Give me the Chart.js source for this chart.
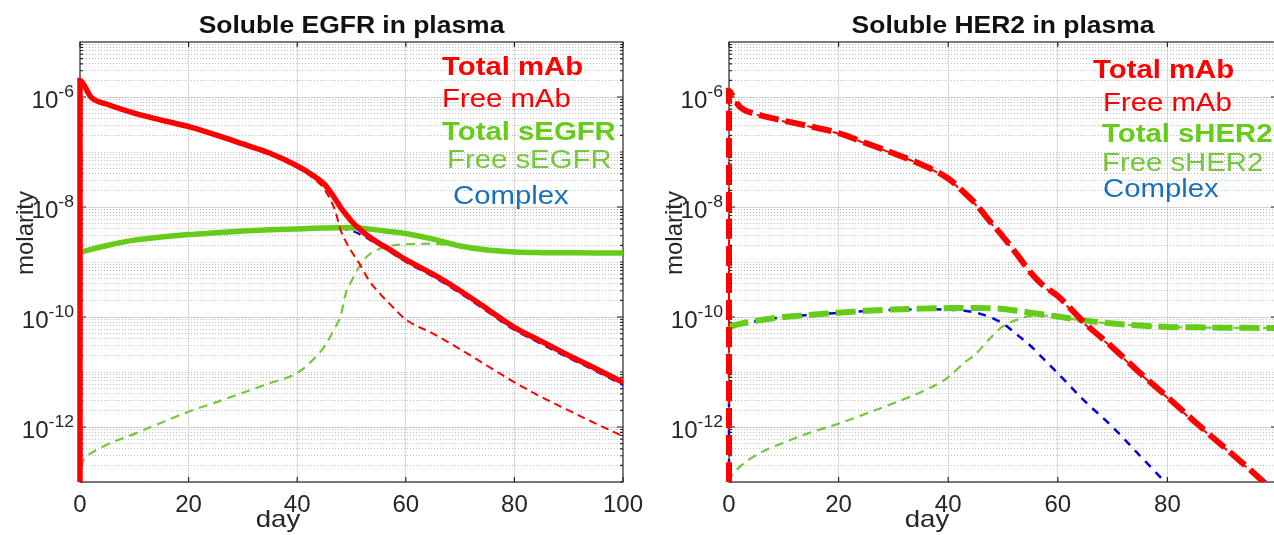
<!DOCTYPE html>
<html>
<head>
<meta charset="utf-8">
<script src="https://cdn.jsdelivr.net/npm/chart.js@4.4.1/dist/chart.umd.min.js"></script>
<style>
  html, body { margin: 0; padding: 0; background: #fff; overflow: hidden; width: 1274px; height: 535px; }
  #wrapL { position: absolute; left: 0; top: 0; }
  #wrapR { position: absolute; left: 648px; top: 0; }
</style>
</head>
<body>
<div id="wrapL"><canvas id="egfrChart" width="650" height="535"></canvas></div>
<div id="wrapR"><canvas id="her2Chart" width="660" height="535"></canvas></div>
<script>
// ---- data (days, molar) ----
const egfrDays = [0, 0, 0.5, 2, 5, 10, 15, 20, 25, 30, 35, 40, 43, 45, 47, 48, 49, 50, 51, 52, 53, 55, 57, 60, 65, 70, 75, 80, 85, 90, 95, 100];
const egfrTotalMab = [1e-13, 2.0e-6, 1.8e-6, 1.0e-6, 7.4e-7, 5.1e-7, 3.8e-7, 2.9e-7, 2.05e-7, 1.4e-7, 9.5e-8, 5.6e-8, 3.7e-8, 2.6e-8, 1.4e-8, 9.8e-9, 7.3e-9, 5.5e-9, 4.4e-9, 3.6e-9, 3.0e-9, 2.2e-9, 1.7e-9, 1.1e-9, 6.0e-10, 3.0e-10, 1.4e-10, 6.5e-11, 3.6e-11, 2.0e-11, 1.15e-11, 6.5e-12];
const egfrFreeMab = [1e-13, 1.95e-6, 1.75e-6, 9.8e-7, 7.2e-7, 4.9e-7, 3.65e-7, 2.75e-7, 1.95e-7, 1.32e-7, 8.9e-8, 5.2e-8, 3.3e-8, 2.1e-8, 8.5e-9, 3.8e-9, 2.3e-9, 1.55e-9, 1.1e-9, 7.5e-10, 5.0e-10, 2.8e-10, 1.75e-10, 9.0e-11, 5.0e-11, 2.6e-11, 1.3e-11, 6.5e-12, 3.5e-12, 2.0e-12, 1.15e-12, 6.8e-13];
const egfrTotalRec = [null, 1.5e-9, 1.55e-9, 1.7e-9, 2.0e-9, 2.5e-9, 2.85e-9, 3.15e-9, 3.4e-9, 3.65e-9, 3.85e-9, 4.0e-9, 4.1e-9, 4.15e-9, 4.2e-9, 4.2e-9, 4.2e-9, 4.2e-9, 4.15e-9, 4.1e-9, 4.0e-9, 3.8e-9, 3.6e-9, 3.3e-9, 2.6e-9, 1.95e-9, 1.65e-9, 1.52e-9, 1.48e-9, 1.47e-9, 1.46e-9, 1.46e-9];
const egfrFreeRec = [1e-13, 1.2e-13, 2.3e-13, 3.3e-13, 4.8e-13, 7.5e-13, 1.2e-12, 1.9e-12, 2.8e-12, 4.2e-12, 6.3e-12, 9.6e-12, 1.7e-11, 2.9e-11, 6.5e-11, 1.05e-10, 2.8e-10, 4.5e-10, 7.0e-10, 1.0e-9, 1.3e-9, 1.7e-9, 1.95e-9, 2.1e-9, 2.15e-9, 1.9e-9, 1.63e-9, 1.51e-9, 1.47e-9, 1.46e-9, 1.45e-9, 1.45e-9];
const egfrComplex = [1e-13, 1.4e-9, 1.5e-9, 1.65e-9, 1.95e-9, 2.45e-9, 2.8e-9, 3.1e-9, 3.35e-9, 3.6e-9, 3.8e-9, 3.95e-9, 4.05e-9, 4.1e-9, 4.1e-9, 4.05e-9, 3.9e-9, 3.7e-9, 3.4e-9, 3.0e-9, 2.65e-9, 2.05e-9, 1.55e-9, 1.0e-9, 5.4e-10, 2.7e-10, 1.25e-10, 5.8e-11, 3.2e-11, 1.8e-11, 1.03e-11, 5.8e-12];

const her2Days = [0, 0, 0.5, 2, 5, 10, 15, 20, 25, 30, 35, 40, 43, 45, 47, 50, 53, 55, 57, 60, 65, 70, 75, 80, 85, 90, 95, 100];
const her2TotalMab = [1e-13, 1.3e-6, 1.1e-6, 6.6e-7, 4.9e-7, 3.7e-7, 2.9e-7, 2.2e-7, 1.45e-7, 9.5e-8, 6.0e-8, 3.3e-8, 1.8e-8, 1.15e-8, 6.5e-9, 2.9e-9, 1.2e-9, 6.5e-10, 4.0e-10, 2.4e-10, 7.6e-11, 2.8e-11, 9.6e-12, 3.5e-12, 1.25e-12, 4.6e-13, 1.7e-13, 6e-14];
const her2FreeMab = [1e-13, 1.28e-6, 1.08e-6, 6.5e-7, 4.8e-7, 3.6e-7, 2.85e-7, 2.15e-7, 1.42e-7, 9.3e-8, 5.9e-8, 3.2e-8, 1.75e-8, 1.1e-8, 6.3e-9, 2.8e-9, 1.15e-9, 6.2e-10, 3.8e-10, 2.3e-10, 7.3e-11, 2.7e-11, 9.3e-12, 3.4e-12, 1.2e-12, 4.5e-13, 1.65e-13, 6e-14];
const her2TotalRec = [null, 6.5e-11, 6.8e-11, 7.5e-11, 8.5e-11, 1.0e-10, 1.1e-10, 1.2e-10, 1.3e-10, 1.37e-10, 1.42e-10, 1.45e-10, 1.46e-10, 1.46e-10, 1.45e-10, 1.4e-10, 1.28e-10, 1.2e-10, 1.12e-10, 1.02e-10, 8.6e-11, 7.6e-11, 7.0e-11, 6.6e-11, 6.5e-11, 6.4e-11, 6.35e-11, 6.3e-11];
const her2FreeRec = [1e-13, 1.1e-13, 1.3e-13, 1.9e-13, 3.1e-13, 5.2e-13, 8e-13, 1.15e-12, 1.75e-12, 2.7e-12, 4.3e-12, 8e-12, 1.5e-11, 2.1e-11, 3.5e-11, 6.8e-11, 9.2e-11, 1.05e-10, 1.07e-10, 1.0e-10, 8.5e-11, 7.55e-11, 6.95e-11, 6.55e-11, 6.45e-11, 6.4e-11, 6.35e-11, 6.3e-11];
const her2Complex = [1e-13, 6.3e-11, 6.7e-11, 7.4e-11, 8.4e-11, 1.0e-10, 1.1e-10, 1.19e-10, 1.28e-10, 1.35e-10, 1.38e-10, 1.36e-10, 1.3e-10, 1.2e-10, 1.05e-10, 7.6e-11, 4.4e-11, 3.0e-11, 1.9e-11, 9.5e-12, 2.9e-12, 1.0e-12, 3.0e-13, 9e-14, null, null, null, null];

// ticks
const xTicks = [0, 20, 40, 60, 80, 100];
const yMajorExps = [-12, -10, -8, -6];
const yDecades = [-13, -12, -11, -10, -9, -8, -7, -6];
const yMults = [1, 2, 3, 4, 5, 6, 7, 8, 9];

const RED = '#ff0000';
const GREEN = '#66cc1a';
const GREEN_THIN = '#74c83c';
const BLUE = '#0000e6';
const BLUE_TXT = '#1a6fbd';
const INK = '#262626';
const FONT = '"Liberation Sans", Arial, Helvetica, sans-serif';
const SX = 1.15; // the source figure is stretched sideways

const yMajorVals = yMajorExps.map(e => Math.pow(10, e));
const yMinorVals = [];
yDecades.forEach(n => yMults.forEach(k => {
    if (k === 1 && yMajorExps.includes(n)) return;
    yMinorVals.push(k * Math.pow(10, n));
}));

function series(days, vals) {
    return days.map((d, i) => ({ x: d, y: vals[i] }));
}

function drawText(ctx, str, x, y, font, color, align, sx) {
    ctx.save();
    ctx.font = font;
    ctx.fillStyle = color;
    ctx.textAlign = align;
    ctx.textBaseline = 'alphabetic';
    ctx.translate(x, y);
    ctx.scale(sx, 1);
    ctx.fillText(str, 0, 0);
    ctx.restore();
}

const deco = {
    id: 'deco',
    beforeDatasetsDraw(chart, args, o) {
        const { ctx, chartArea: a, scales: { x, y } } = chart;
        ctx.save();
        ctx.strokeStyle = INK;
        ctx.lineWidth = 1.2;
        ctx.strokeRect(a.left, a.top, a.right - a.left, a.bottom - a.top);
        ctx.beginPath();
        yMinorVals.concat(yMajorVals).forEach(v => {
            const py = y.getPixelForValue(v);
            const len = yMajorVals.includes(v) ? 6 : 3;
            ctx.moveTo(a.left, py); ctx.lineTo(a.left + len, py);
            ctx.moveTo(a.right, py); ctx.lineTo(a.right - len, py);
        });
        xTicks.forEach(v => {
            const px = x.getPixelForValue(v);
            ctx.moveTo(px, a.bottom); ctx.lineTo(px, a.bottom - 5);
            ctx.moveTo(px, a.top); ctx.lineTo(px, a.top + 5);
        });
        ctx.stroke();
        ctx.restore();
    },
    afterDatasetsDraw(chart, args, o) {
        const { ctx, chartArea: a, scales: { y } } = chart;
        // title
        drawText(ctx, o.title, (a.left + a.right) / 2, 33, 'bold 23px ' + FONT, '#111', 'center', SX);
        // y tick labels 10^n
        yMajorExps.forEach(e => {
            const py = y.getPixelForValue(Math.pow(10, e));
            ctx.save();
            ctx.font = '16px ' + FONT;
            const expW = ctx.measureText(String(e)).width * 1.1;
            ctx.restore();
            const right = a.left - 6;
            drawText(ctx, String(e), right, py, '16px ' + FONT, INK, 'right', 1.1);
            drawText(ctx, '10', right - expW, py + 11, '23px ' + FONT, INK, 'right', 1.05);
        });
        // axis titles
        drawText(ctx, 'day', a.left + 198, 527, '24px ' + FONT, INK, 'center', SX);
        ctx.save();
        ctx.translate(a.left - 47, 233);
        ctx.rotate(-Math.PI / 2);
        ctx.font = '24px ' + FONT;
        ctx.fillStyle = INK;
        ctx.textAlign = 'center';
        ctx.textBaseline = 'alphabetic';
        ctx.fillText('molarity', 0, 0);
        ctx.restore();
        // text legend
        o.legend.forEach(it => {
            drawText(ctx, it.text, it.x, it.y, (it.bold ? 'bold ' : '') + '25.5px ' + FONT, it.color, 'left', SX);
        });
    }
};

function makeChart(id, datasets, padRight, axisWidth, hideLast, deco_opts) {
    datasets.forEach(d => { d.clip = { left: 4, top: 0, right: 0, bottom: 0 }; });
    return new Chart(document.getElementById(id), {
        type: 'line',
        data: { datasets: datasets },
        options: {
            responsive: false,
            animation: false,
            devicePixelRatio: 1,
            layout: { padding: { top: 42, right: padRight, left: 0, bottom: 0 } },
            elements: { point: { radius: 0 }, line: { cubicInterpolationMode: 'monotone', borderCapStyle: 'butt' } },
            plugins: { legend: { display: false }, tooltip: { enabled: false }, deco: deco_opts },
            scales: {
                x: {
                    type: 'linear', min: 0, max: 100,
                    afterBuildTicks: s => { s.ticks = xTicks.map(v => ({ value: v })); },
                    afterFit: s => { s.height = 53; s.paddingLeft = 0; s.paddingRight = 0; },
                    grid: {
                        drawTicks: false, lineWidth: 1,
                        color: c => (c.tick && (c.tick.value === 0 || c.tick.value === 100)) ? 'rgba(0,0,0,0)' : '#d9d9d9'
                    },
                    border: { display: false },
                    ticks: {
                        padding: 9, color: INK, font: { family: FONT, size: 24 }, maxRotation: 0, autoSkip: false,
                        callback: v => (hideLast && v === 100) ? '' : String(v)
                    }
                },
                y: {
                    type: 'logarithmic', min: 1e-13, max: 1e-5, position: 'left',
                    afterBuildTicks: s => { s.ticks = yMajorVals.map(v => ({ value: v })); },
                    afterFit: s => { s.width = axisWidth; },
                    grid: { drawTicks: false, color: '#d2d2d2', lineWidth: 1 },
                    border: { display: false },
                    ticks: { display: false }
                },
                yMinor: {
                    type: 'logarithmic', min: 1e-13, max: 1e-5, position: 'left',
                    afterBuildTicks: s => { s.ticks = yMinorVals.map(v => ({ value: v })); },
                    afterFit: s => { s.width = 0; },
                    grid: { drawTicks: false, color: '#bdbdbd', lineWidth: 1 },
                    border: { display: false, dash: [1, 2] },
                    ticks: { display: false }
                }
            }
        },
        plugins: [deco]
    });
}

makeChart('egfrChart', [
    { label: 'Total mAb', data: series(egfrDays, egfrTotalMab), borderColor: RED, borderWidth: 5.5 },
    { label: 'Free mAb', data: series(egfrDays, egfrFreeMab), borderColor: RED, borderWidth: 2, borderDash: [8, 5] },
    { label: 'Total sEGFR', data: series(egfrDays, egfrTotalRec), borderColor: GREEN, borderWidth: 5.5 },
    { label: 'Free sEGFR', data: series(egfrDays, egfrFreeRec), borderColor: GREEN_THIN, borderWidth: 2.2, borderDash: [9, 6] },
    { label: 'Complex', data: series(egfrDays, egfrComplex), borderColor: BLUE, borderWidth: 2, borderDash: [8, 6] }
], 27, 80, false, {
    title: 'Soluble EGFR in plasma',
    legend: [
        { text: 'Total mAb', x: 442, y: 75, bold: true, color: RED },
        { text: 'Free mAb', x: 442, y: 107, bold: false, color: RED },
        { text: 'Total sEGFR', x: 442, y: 140, bold: true, color: GREEN },
        { text: 'Free sEGFR', x: 447, y: 168, bold: false, color: GREEN_THIN },
        { text: 'Complex', x: 453, y: 204, bold: false, color: BLUE_TXT }
    ]
});

makeChart('her2Chart', [
    { label: 'Total mAb', data: series(her2Days, her2TotalMab), borderColor: RED, borderWidth: 6, borderDash: [20, 7] },
    { label: 'Free mAb', data: series(her2Days, her2FreeMab), borderColor: RED, borderWidth: 2, borderDash: [8, 5] },
    { label: 'Total sHER2', data: series(her2Days, her2TotalRec), borderColor: GREEN, borderWidth: 6, borderDash: [20, 7] },
    { label: 'Free sHER2', data: series(her2Days, her2FreeRec), borderColor: GREEN_THIN, borderWidth: 2.2, borderDash: [9, 6] },
    { label: 'Complex', data: series(her2Days, her2Complex), borderColor: BLUE, borderWidth: 2.5, borderDash: [8, 7] }
], 31, 81, true, {
    title: 'Soluble HER2 in plasma',
    legend: [
        { text: 'Total mAb', x: 445, y: 78, bold: true, color: RED },
        { text: 'Free mAb', x: 455, y: 111, bold: false, color: RED },
        { text: 'Total sHER2', x: 454, y: 142, bold: true, color: GREEN },
        { text: 'Free sHER2', x: 454, y: 171, bold: false, color: GREEN_THIN },
        { text: 'Complex', x: 455, y: 197, bold: false, color: BLUE_TXT }
    ]
});
</script>
</body>
</html>
